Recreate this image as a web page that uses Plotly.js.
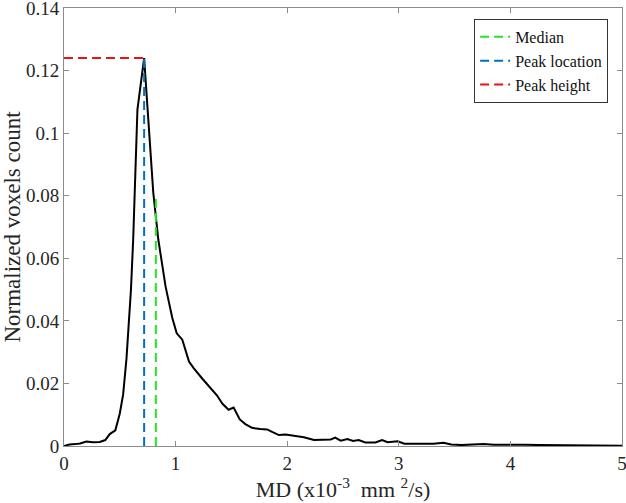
<!DOCTYPE html>
<html>
<head>
<meta charset="utf-8">
<script src="https://cdn.plot.ly/plotly-3.0.1.min.js"></script>
<style>html,body{margin:0;padding:0;background:#fff;}#chart{width:626px;height:503px;}</style>
</head>
<body>
<div id="chart"></div>
<script>
// Histogram curve (MD in x10^-3 mm^2/s, normalized voxel count)
const mdValues = [0, 0.05, 0.10, 0.145, 0.20, 0.26, 0.32, 0.37, 0.41, 0.46, 0.50, 0.53, 0.56, 0.58, 0.60, 0.62, 0.64, 0.658, 0.718,
  0.76, 0.80, 0.845, 0.88, 0.91, 0.94, 0.97, 1.01, 1.06, 1.12, 1.16, 1.24, 1.33, 1.37, 1.42, 1.475, 1.52, 1.575, 1.625, 1.685,
  1.76, 1.82, 1.865, 1.925, 1.985, 2.06, 2.15, 2.24, 2.33, 2.39, 2.43, 2.48, 2.54, 2.59, 2.64, 2.70, 2.79, 2.85, 2.90, 2.99,
  3.05, 3.14, 3.22, 3.31, 3.40, 3.47, 3.56, 3.67, 3.76, 3.85, 3.97, 4.12, 4.27, 4.43, 4.57, 4.72, 4.86, 5.0];
const voxelCounts = [0, 0.0005, 0.0006, 0.0008, 0.0014, 0.0012, 0.0013, 0.0019, 0.0038, 0.005, 0.0104, 0.0165, 0.028, 0.038, 0.050, 0.066, 0.086, 0.1075, 0.124,
  0.100, 0.081, 0.066, 0.057, 0.051, 0.046, 0.041, 0.036, 0.034, 0.027, 0.025, 0.0215, 0.0177, 0.0162, 0.0135, 0.0116, 0.0123, 0.0085, 0.007, 0.0058,
  0.0054, 0.0053, 0.0045, 0.0035, 0.0037, 0.0032, 0.0028, 0.0019, 0.0019, 0.0021, 0.0027, 0.0017, 0.0022, 0.0016, 0.0019, 0.0011, 0.0011, 0.0019, 0.0012, 0.0015,
  0.0007, 0.0007, 0.0005, 0.0007, 0.0010, 0.0005, 0.0003, 0.0005, 0.0006, 0.0004, 0.0003, 0.0004, 0.0003, 0.0003, 0.0002, 0.0002, 0.0001, 0.0001];

// Reference lines
const medianX = [0.823, 0.823];
const medianY = [0, 0.079];
const peakLocX = [0.718, 0.718];
const peakLocY = [0, 0.124];
const peakHeightX = [0, 0.718];
const peakHeightY = [0.124, 0.124];

// Ticks
const xTickVals = [0, 1, 2, 3, 4, 5];
const xTickText = ['0', '1', '2', '3', '4', '5'];
const yTickVals = [0, 0.02, 0.04, 0.06, 0.08, 0.1, 0.12, 0.14];
const yTickText = ['0', '0.02', '0.04', '0.06', '0.08', '0.1', '0.12', '0.14'];

const FONT = 'Liberation Serif, Times New Roman, serif';
const dashPat = '9px,5px';
const TXT = '#262626';

const traces = [
  {x: mdValues, y: voxelCounts, type: 'scatter', mode: 'lines', showlegend: false,
   line: {color: '#000000', width: 2}, hoverinfo: 'skip'},
  {x: medianX, y: medianY, type: 'scatter', mode: 'lines', name: 'Median',
   line: {color: '#22e622', width: 2, dash: dashPat}},
  {x: peakLocX, y: peakLocY, type: 'scatter', mode: 'lines', name: 'Peak location',
   line: {color: '#0072BD', width: 2, dash: dashPat}},
  {x: peakHeightX, y: peakHeightY, type: 'scatter', mode: 'lines', name: 'Peak height',
   line: {color: '#ee1111', width: 2, dash: dashPat}}
];

const axisCommon = {
  showgrid: false, zeroline: false, showline: true, mirror: 'ticks',
  linecolor: '#8c8c8c', linewidth: 1, ticks: 'inside', ticklen: 5, tickcolor: '#8c8c8c',
  tickfont: {family: FONT, size: 19, color: TXT}, ticklabeloverflow: 'allow'
};

const layout = {
  width: 626, height: 503,
  margin: {l: 64, r: 4, t: 8, b: 57},
  paper_bgcolor: '#ffffff', plot_bgcolor: '#ffffff',
  font: {family: FONT, color: TXT},
  xaxis: Object.assign({}, axisCommon, {
    range: [0, 5], tickmode: 'array', tickvals: xTickVals, ticktext: xTickText,
    title: {text: 'MD (x10<sup>-3</sup>  mm <sup>2</sup>/s)', font: {family: FONT, size: 22, color: TXT}, standoff: 4}
  }),
  yaxis: Object.assign({}, axisCommon, {
    range: [0, 0.14], tickmode: 'array', tickvals: yTickVals, ticktext: yTickText,
    title: {text: 'Normalized voxels count', font: {family: FONT, size: 23, color: TXT}, standoff: 2}
  }),
  legend: {
    x: 0.735, y: 0.975, xanchor: 'left', yanchor: 'top',
    bgcolor: '#ffffff', bordercolor: '#333333', borderwidth: 1,
    font: {family: FONT, size: 16, color: '#111111'},
    itemwidth: 30, tracegroupgap: 0
  },
  showlegend: true
};

Plotly.newPlot('chart', traces, layout, {displayModeBar: false, staticPlot: true});
</script>
</body>
</html>
